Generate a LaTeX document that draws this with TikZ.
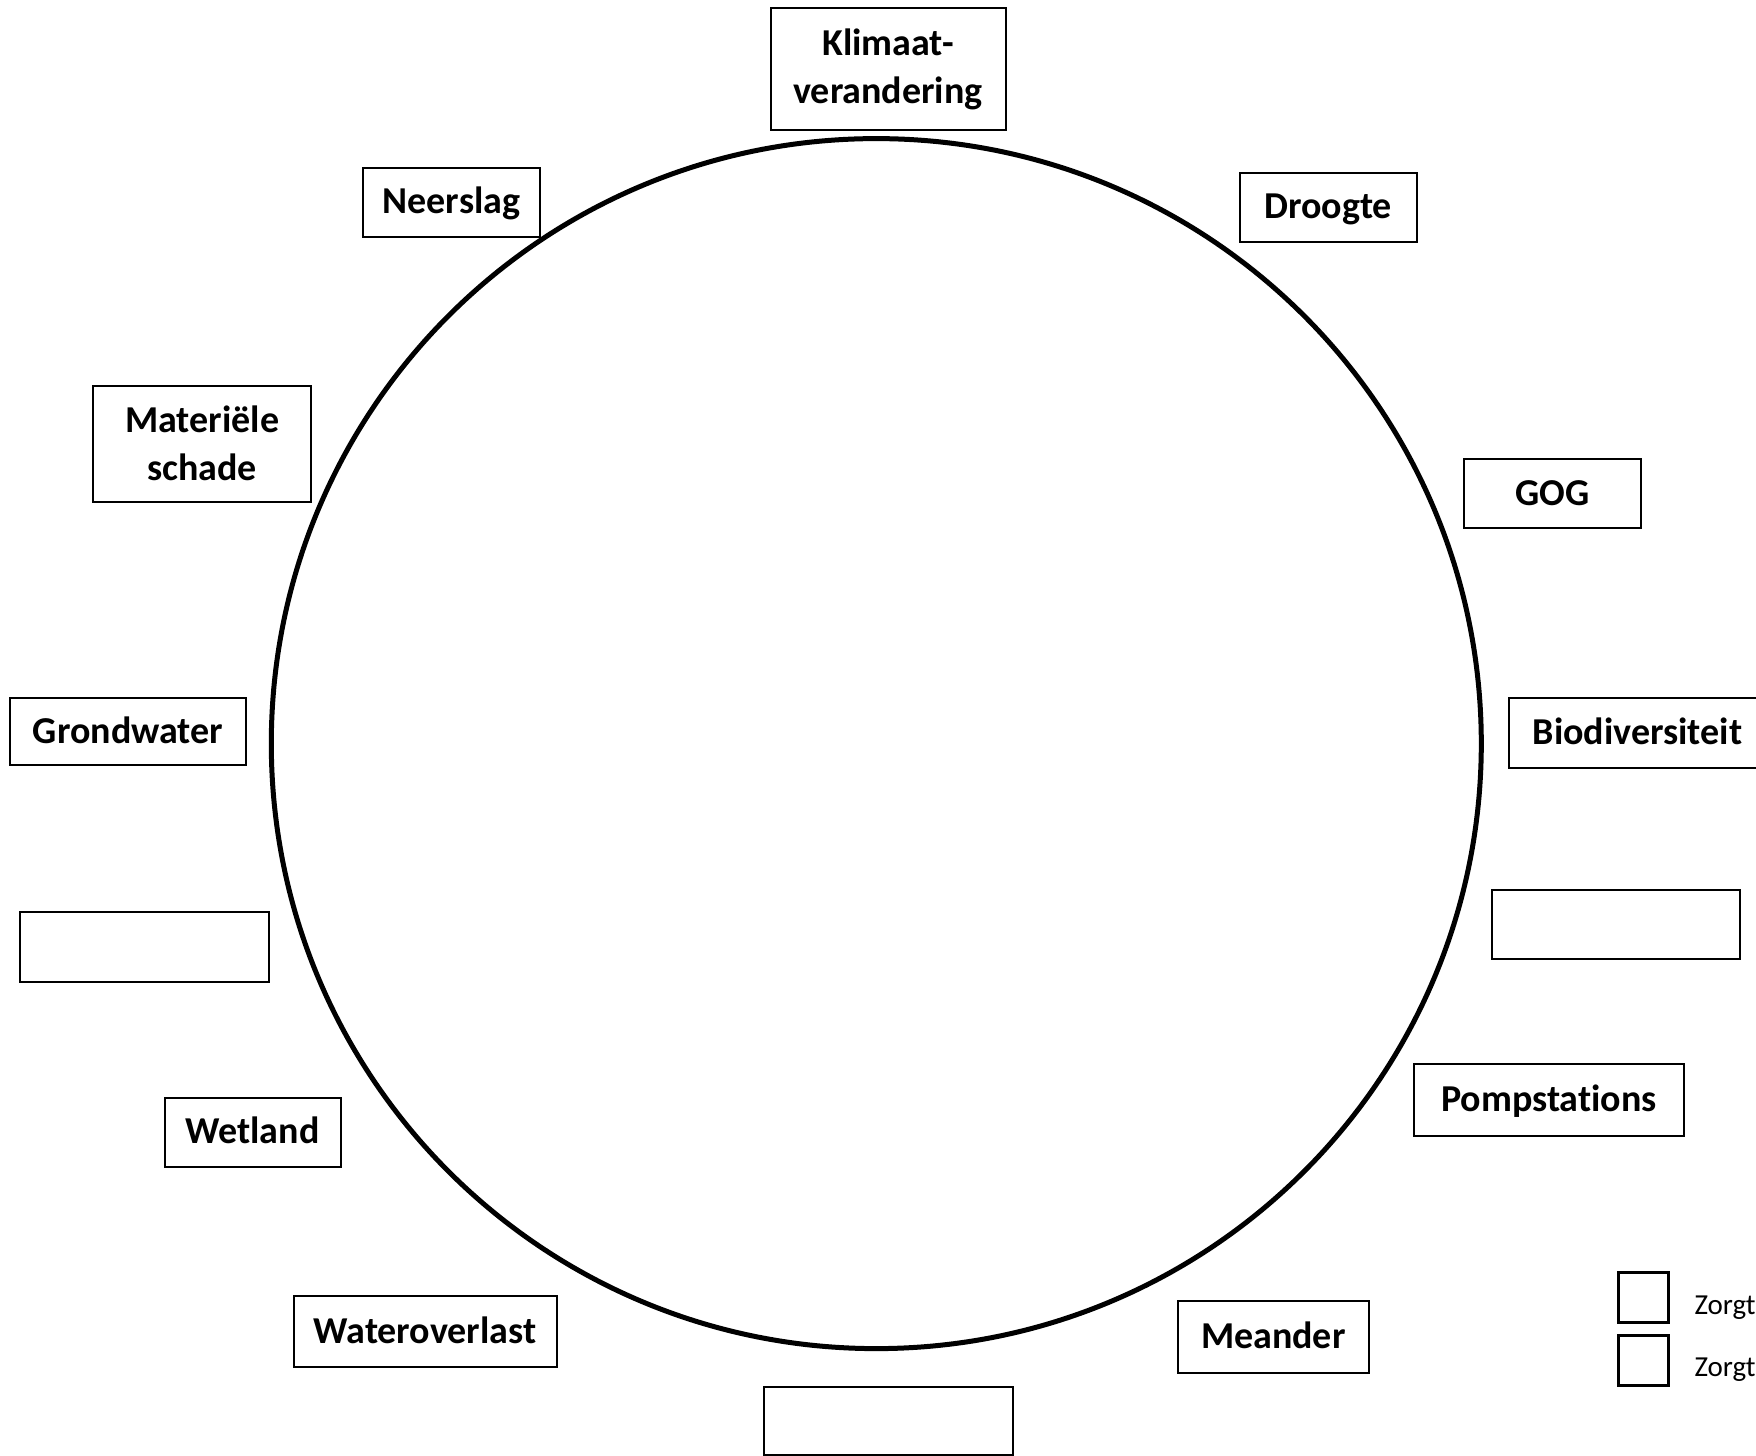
\documentclass[tikz,border=0pt]{standalone}
\usepackage{fontspec}
\setmainfont{Carlito}[Ligatures=NoCommon]
\begin{document}
\begin{tikzpicture}[x=1pt,y=-1pt,
  boxbase/.style={draw, line width=2pt, align=center, inner sep=0pt,
    font=\bfseries\fontsize{38}{48}\selectfont},
  box/.style={boxbase, text height=23pt, text depth=0pt},
  multibox/.style={boxbase},
  legbox/.style={draw, line width=3pt, minimum width=50pt, minimum height=50pt, inner sep=0pt},
  legtext/.style={anchor=base west, inner sep=0pt, font=\fontsize{29}{32}\selectfont},
  ring/.style={line width=5pt}]
\useasboundingbox (0,0) rectangle (1756,1456);
\clip (0,0) rectangle (1756,1456);
\draw[ring] (876.3,743.6) circle[radius=605pt];
\node[multibox, minimum width=235pt, minimum height=122pt] (klimaat) at (888,69) {Klimaat-\\verandering};
\node[box, minimum width=177pt, minimum height=69pt] (neerslag) at (451.5,202.3) {Neerslag};
\node[box, minimum width=177pt, minimum height=69pt] (droogte) at (1328.2,207.2) {Droogte};
\node[multibox, minimum width=218pt, minimum height=116pt] (materiele) at (202.2,443.5) {Materiële\\schade};
\node[box, minimum width=177pt, minimum height=69pt] (gog) at (1552.2,493.9) {GOG};
\node[box, minimum width=236pt, minimum height=67pt] (grondwater) at (128,731.7) {Grondwater};
\node[box, minimum width=257pt, minimum height=70pt] (biodiv) at (1637.5,733) {Biodiversiteit};
\node[box, minimum width=248.6pt, minimum height=69pt] (emptyright) at (1616,924) {};
\node[box, minimum width=249pt, minimum height=70pt] (emptyleft) at (144.5,946.7) {};
\node[box, minimum width=270pt, minimum height=72pt] (pomp) at (1549,1099.7) {Pompstations};
\node[box, minimum width=176pt, minimum height=69.4pt] (wetland) at (252.5,1132.2) {Wetland};
\node[box, minimum width=263pt, minimum height=71.7pt] (wateroverlast) at (425,1331.5) {Wateroverlast};
\node[box, minimum width=190.4pt, minimum height=71.7pt] (meander) at (1273.3,1337.1) {Meander};
\node[box, minimum width=249pt, minimum height=68.3pt] (emptybottom) at (888.5,1420.9) {};
\node[legbox] (leg1) at (1643.5,1297.3) {};
\node[legbox] (leg2) at (1643,1360) {};
\node[legtext] (leg1t) at (1694.3,1314.5) {Zorgt};
\node[legtext] (leg2t) at (1694.3,1376.5) {Zorgt};
\end{tikzpicture}
\end{document}
